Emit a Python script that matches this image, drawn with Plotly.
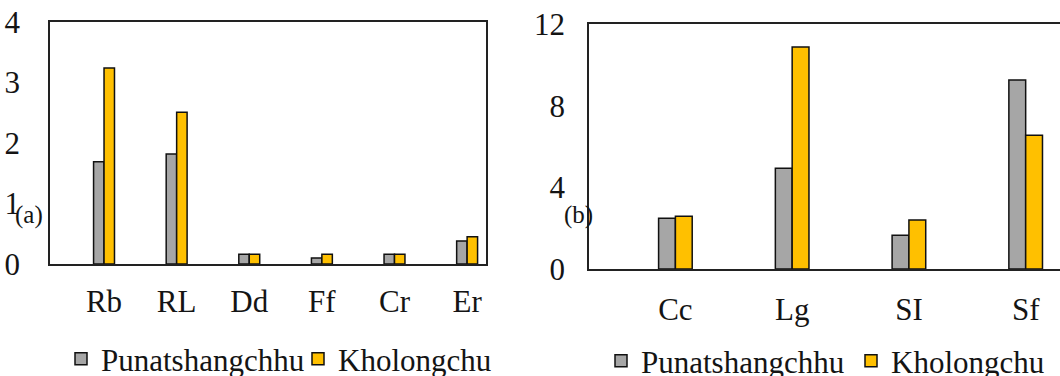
import plotly.graph_objects as go

# ---- data ----
cats_a = ["Rb", "RL", "Dd", "Ff", "Cr", "Er"]
puna_a = [1.69, 1.82, 0.16, 0.10, 0.16, 0.38]
khol_a = [3.24, 2.51, 0.16, 0.16, 0.16, 0.45]

cats_b = ["Cc", "Lg", "SI", "Sf"]
puna_b = [2.48, 4.93, 1.65, 9.26]
khol_b = [2.58, 10.87, 2.40, 6.55]

yticks_a = [0, 1, 2, 3, 4]
yticks_b = [0, 4, 8, 12]

series_names = ["Punatshangchhu", "Kholongchu"]
GRAY = "#A6A6A6"
YELLOW = "#FFC000"
FONT = "'Liberation Serif', 'Times New Roman', Times, serif"
TXT = "#141414"
LINE = "#222222"

fig = go.Figure()

def add_bars(cats, p, k, xa, ya, leg_p, leg_k):
    fig.add_trace(go.Bar(x=cats, y=p, name=series_names[0], marker=dict(color=GRAY, line=dict(color="#111", width=1.5)),
                         xaxis=xa, yaxis=ya, legend=leg_p))
    fig.add_trace(go.Bar(x=cats, y=k, name=series_names[1], marker=dict(color=YELLOW, line=dict(color="#111", width=1.5)),
                         xaxis=xa, yaxis=ya, legend=leg_k))

add_bars(cats_a, puna_a, khol_a, "x", "y", "legend", "legend2")
add_bars(cats_b, puna_b, khol_b, "x2", "y2", "legend3", "legend4")

W, H = 1060, 376
def px_x(v): return v / W
def px_y(v): return (H - v) / H

tickfont = dict(family=FONT, size=31, color=TXT)
legfont = dict(family=FONT, size=31, color=TXT)

def leg(xpx, ypx):
    return dict(orientation="h", x=px_x(xpx), xanchor="left", y=px_y(ypx), yanchor="top",
                font=legfont, bgcolor="rgba(0,0,0,0)")

fig.update_layout(
    width=W, height=H,
    margin=dict(l=0, r=0, t=0, b=0, autoexpand=False),
    paper_bgcolor="white", plot_bgcolor="white",
    barmode="group", bargap=0.712, bargroupgap=0,
    font=dict(family=FONT, color=TXT),
    xaxis=dict(domain=[px_x(50), px_x(486)], anchor="y", type="category", categoryorder="array",
               categoryarray=cats_a, range=[-0.744, 5.26], showline=True, linecolor=LINE, linewidth=1.6,
               mirror=True, ticks="outside", ticklen=9, tickcolor="rgba(0,0,0,0)", tickfont=tickfont,
               showgrid=False, automargin=False),
    yaxis=dict(domain=[px_y(264), px_y(22)], anchor="x", range=[0, 4], tickvals=yticks_a,
               showline=True, linecolor=LINE, linewidth=1.6, mirror=True, ticks="outside", ticklen=22,
               tickcolor="rgba(0,0,0,0)", tickfont=tickfont, showgrid=False, zeroline=False, automargin=False),
    xaxis2=dict(domain=[px_x(589), 1.0], anchor="y2", type="category", categoryorder="array",
                categoryarray=cats_b, range=[-0.74, 3.294], showline=True, linecolor=LINE, linewidth=1.6,
                mirror=True, ticks="outside", ticklen=12, tickcolor="rgba(0,0,0,0)", tickfont=tickfont,
                showgrid=False, automargin=False),
    yaxis2=dict(domain=[px_y(269), px_y(24)], anchor="x2", range=[0, 12], tickvals=yticks_b,
                showline=True, linecolor=LINE, linewidth=1.6, mirror=False, ticks="outside", ticklen=16,
                tickcolor="rgba(0,0,0,0)", tickfont=tickfont, showgrid=False, zeroline=False, automargin=False),
    legend=leg(61, 332),
    legend2=leg(298, 332),
    legend3=leg(601, 334),
    legend4=leg(851, 334),
    showlegend=True,
)

fig.add_annotation(text="(a)", x=px_x(29), y=px_y(215), xref="paper", yref="paper", showarrow=False,
                   font=dict(family=FONT, size=25, color=TXT), xanchor="center", yanchor="middle")
fig.add_annotation(text="(b)", x=px_x(578), y=px_y(215), xref="paper", yref="paper", showarrow=False,
                   font=dict(family=FONT, size=25, color=TXT), xanchor="center", yanchor="middle")

fig.write_html("out.html", config={"displayModeBar": False},
               post_script="document.body.style.margin='0';document.body.style.overflow='hidden';")
